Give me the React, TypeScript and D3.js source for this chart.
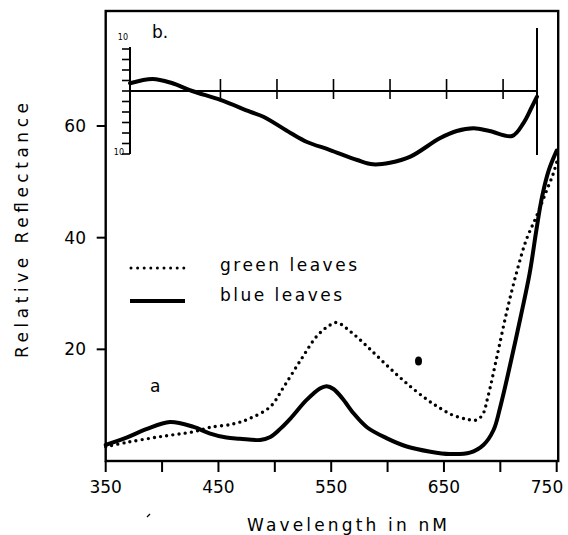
import React from 'react';
import * as d3 from 'd3';

// Main panel (a): relative reflectance vs wavelength (nm)
const blueWl = [350, 369, 386, 407, 428, 442, 457, 469, 487, 496, 505, 514, 528, 540, 546, 552, 560, 570, 582, 599, 617, 638, 655, 673, 685, 694, 700, 709, 718, 726, 732, 737, 743, 750];
const blueVal = [2.9, 4.25, 5.7, 7.0, 6.1, 4.96, 4.2, 4.0, 3.76, 4.3, 5.8, 7.65, 10.9, 13.0, 13.4, 12.9, 11.2, 8.5, 6.0, 4.1, 2.6, 1.67, 1.25, 1.49, 2.87, 5.55, 9.73, 17.5, 25.8, 33.6, 41.4, 47.3, 52.1, 55.6];

const greenWl = [350, 369, 398, 428, 442, 463, 478, 496, 508, 523, 537, 547, 555, 567, 582, 599, 617, 635, 647, 658, 670, 678, 684, 689, 697, 706, 715, 723, 732, 740, 747, 750];
const greenVal = [2.56, 3.35, 4.35, 5.25, 6.0, 6.63, 7.65, 9.73, 13.3, 18.1, 22.3, 24.1, 24.8, 23.2, 20.5, 17.2, 13.9, 11.0, 9.4, 8.2, 7.5, 7.3, 8.2, 11.5, 18.7, 27.0, 34.2, 39.6, 43.8, 47.9, 51.5, 53.5];

// Inset (b): difference curve
const diffWl = [370, 390, 407, 425, 450, 476, 488, 512, 526, 547, 571, 585, 600, 618, 644, 659, 674, 688, 708, 718, 725, 730];
const diffVal = [1.47, 2.29, 1.52, 0, -1.71, -3.94, -4.9, -8.0, -9.66, -11.24, -13.14, -13.96, -13.66, -12.5, -9.0, -7.62, -7.1, -7.62, -8.57, -6.1, -3.24, -1.09];

const xTicks = [350, 400, 450, 500, 550, 600, 650, 700, 750];
const xLabels = [350, 450, 550, 650, 750];
const yTicks = [20, 40, 60];
const insetXTicks = [450, 500, 550, 600, 650, 700];
const insetYTicks = [8, 6, 4, 2, 0, -2, -4, -6, -8, -10, -12];

const legendItems = ['green leaves', 'blue leaves'];

const FONT = "'DejaVu Sans', sans-serif";

export default function App() {
  const x = d3.scaleLinear().domain([350, 750]).range([105.7, 556.7]);
  const y = d3.scaleLinear().domain([0, 80.6]).range([461, 11]);
  const ix = d3.scaleLinear().domain([370, 730]).range([130, 537]);
  const iy = d3.scaleLinear().domain([-12, 8]).range([154, 49]);

  const mainLine = d3
    .line<[number, number]>()
    .x((d) => x(d[0]))
    .y((d) => y(d[1]))
    .curve(d3.curveCatmullRom.alpha(0.5));
  const insetLine = d3
    .line<[number, number]>()
    .x((d) => ix(d[0]))
    .y((d) => iy(d[1]))
    .curve(d3.curveCatmullRom.alpha(0.5));

  const blue = blueWl.map((w, i) => [w, blueVal[i]] as [number, number]);
  const green = greenWl.map((w, i) => [w, greenVal[i]] as [number, number]);
  const diff = diffWl.map((w, i) => [w, diffVal[i]] as [number, number]);

  const x0 = x(350);
  const x1 = x(750) + 1.5;
  const yTop = y(80.6);
  const yBot = y(0);

  return (
    <svg
      width={568}
      height={535}
      viewBox="0 0 568 535"
      style={{ position: 'absolute', left: 0, top: 0, background: '#fff' }}
    >
      <rect x={0} y={0} width={568} height={535} fill="#fff" />
      {/* frame */}
      <rect x={x0} y={yTop} width={x1 - x0} height={yBot - yTop} fill="none" stroke="#000" strokeWidth={2.4} />

      {/* x ticks */}
      {xTicks.map((t) => (
        <line key={t} x1={x(t)} x2={x(t)} y1={yBot} y2={yBot + 11} stroke="#000" strokeWidth={2} />
      ))}
      {xLabels.map((t) => (
        <text key={t} x={Math.min(x(t), 547)} y={493} textAnchor="middle" fontFamily={FONT} fontSize={17} fill="#000">
          {t}
        </text>
      ))}
      {/* y ticks */}
      {yTicks.map((t) => (
        <g key={t}>
          <line x1={x0 - 9} x2={x0} y1={y(t)} y2={y(t)} stroke="#000" strokeWidth={2} />
          <text x={86} y={y(t) + 6} textAnchor="end" fontFamily={FONT} fontSize={17} fill="#000">
            {t}
          </text>
        </g>
      ))}

      {/* axis titles */}
      <text x={247} y={531} fontFamily={FONT} fontSize={17} textLength={200} lengthAdjust="spacing" fill="#000">
        Wavelength in nM
      </text>
      <text
        transform="translate(28,358) rotate(-90)"
        x={0}
        y={0}
        fontFamily={FONT}
        fontSize={17}
        textLength={255}
        lengthAdjust="spacing"
        fill="#000"
      >
        Relative Reflectance
      </text>

      {/* inset b */}
      <line x1={ix(370)} x2={ix(370)} y1={iy(8.4)} y2={iy(-12)} stroke="#000" strokeWidth={2} />
      {insetYTicks.map((t) => (
        <line key={t} x1={ix(370) - 8} x2={ix(370)} y1={iy(t)} y2={iy(t)} stroke="#000" strokeWidth={1.6} />
      ))}
      <line x1={ix(370)} x2={ix(730)} y1={iy(0)} y2={iy(0)} stroke="#000" strokeWidth={1.8} />
      {insetXTicks.map((t) => (
        <line key={t} x1={ix(t)} x2={ix(t)} y1={iy(0) - 12} y2={iy(0) + 8} stroke="#000" strokeWidth={1.6} />
      ))}
      <line x1={ix(730)} x2={ix(730)} y1={iy(12)} y2={iy(-12.2)} stroke="#000" strokeWidth={2} />
      <text x={128} y={40} textAnchor="end" fontFamily={FONT} fontSize={8} fill="#000">10</text>
      <text x={124} y={155} textAnchor="end" fontFamily={FONT} fontSize={8} fill="#000">10</text>
      <text x={152} y={38} fontFamily={FONT} fontSize={17} fill="#000">b.</text>
      <path d={insetLine(diff) || ''} fill="none" stroke="#000" strokeWidth={4} strokeLinecap="round" />

      {/* main curves */}
      <path
        d={mainLine(green) || ''}
        fill="none"
        stroke="#000"
        strokeWidth={3.4}
        strokeDasharray="0 6.2"
        strokeLinecap="round"
      />
      <path d={mainLine(blue) || ''} fill="none" stroke="#000" strokeWidth={4} strokeLinecap="round" />

      {/* legend */}
      <line x1={131} x2={185} y1={268} y2={268} stroke="#000" strokeWidth={3} strokeDasharray="0 6.6" strokeLinecap="round" />
      <line x1={130} x2={185} y1={301} y2={301} stroke="#000" strokeWidth={4} />
      <text x={220} y={271} fontFamily={FONT} fontSize={17} textLength={137} lengthAdjust="spacing" fill="#000">
        {legendItems[0]}
      </text>
      <text x={220} y={301} fontFamily={FONT} fontSize={17} textLength={122} lengthAdjust="spacing" fill="#000">
        {legendItems[1]}
      </text>

      {/* panel label a */}
      <text x={150} y={392} fontFamily={FONT} fontSize={17} fill="#000">a</text>

      {/* scan specks */}
      <ellipse cx={418.5} cy={361} rx={3.5} ry={4.5} fill="#000" />
      <line x1={147} y1={517} x2={150} y2={514} stroke="#000" strokeWidth={1.2} />
    </svg>
  );
}
